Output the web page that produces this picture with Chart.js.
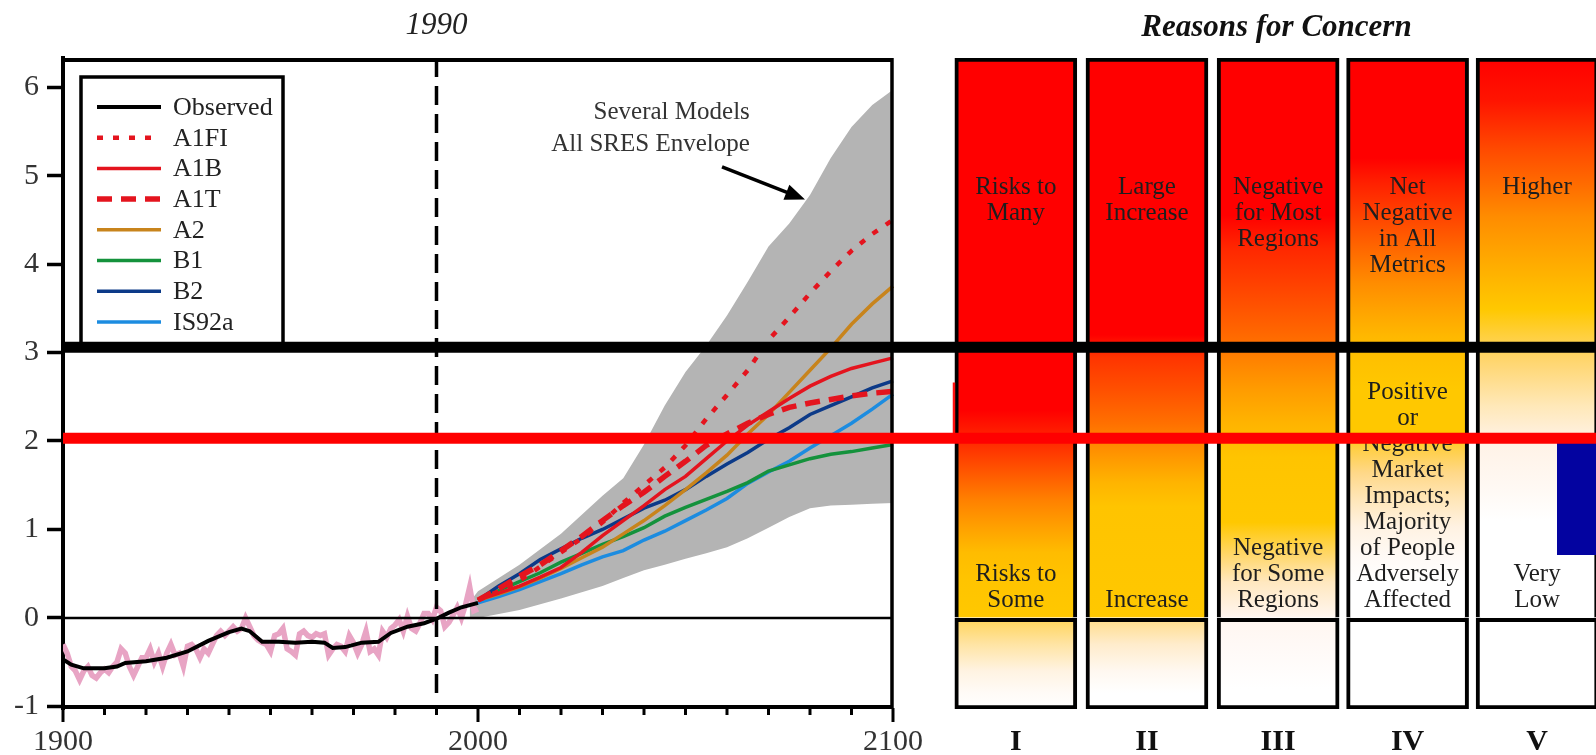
<!DOCTYPE html>
<html>
<head>
<meta charset="utf-8">
<title>Reasons for Concern</title>
<script src="https://cdn.jsdelivr.net/npm/chart.js@4.4.1/dist/chart.umd.min.js"></script>
<style>
  html, body { margin: 0; padding: 0; background: #fff; }
  canvas { display: block; }
</style>
</head>
<body>
<canvas id="concernChart" width="1596" height="755"></canvas>
<script>
// observed temperature change relative to 1990 (deg C), smoothed
const obsYears = [1900, 1902, 1905, 1910, 1913, 1915, 1920, 1925, 1930, 1935, 1940, 1943, 1945, 1948, 1952, 1956, 1960, 1963, 1965, 1968, 1972, 1976, 1979, 1983, 1987, 1990, 1993, 1996, 2000];
const obsSmooth = [-0.47, -0.53, -0.57, -0.57, -0.55, -0.51, -0.49, -0.45, -0.38, -0.26, -0.16, -0.12, -0.15, -0.27, -0.27, -0.28, -0.27, -0.28, -0.34, -0.33, -0.28, -0.27, -0.17, -0.1, -0.06, -0.01, 0.06, 0.12, 0.17];

// annual values, one per year from annualStart
const annualStart = 1900;
const obsAnnual = [
  -0.3, -0.4, -0.55, -0.6, -0.7, -0.6, -0.55, -0.65, -0.68, -0.62,
  -0.58, -0.62, -0.55, -0.5, -0.35, -0.4, -0.55, -0.65, -0.55, -0.45,
  -0.45, -0.35, -0.5, -0.4, -0.55, -0.4, -0.3, -0.42, -0.4, -0.55,
  -0.32, -0.3, -0.35, -0.45, -0.35, -0.4, -0.3, -0.2, -0.15, -0.2,
  -0.15, -0.1, -0.15, -0.12, 0.0, -0.1, -0.2, -0.25, -0.28, -0.3,
  -0.38, -0.2, -0.18, -0.12, -0.35, -0.38, -0.42, -0.18, -0.15, -0.2,
  -0.22, -0.18, -0.2, -0.18, -0.42, -0.35, -0.3, -0.32, -0.38, -0.2,
  -0.28, -0.4, -0.3, -0.15, -0.38, -0.35, -0.42, -0.15, -0.22, -0.12,
  -0.08, -0.02, -0.15, 0.02, -0.12, -0.15, -0.06, 0.05, 0.05, -0.02,
  0.12, 0.08, -0.1, -0.05, 0.03, 0.12, 0.0, 0.15, 0.35, 0.08,
  0.1
];

// SRES scenario projections
const scenYears = [2000, 2005, 2010, 2015, 2020, 2025, 2030, 2035, 2040, 2045, 2050, 2055, 2060, 2065, 2070, 2075, 2080, 2085, 2090, 2095, 2100];
const a1fi  = [0.2, 0.3, 0.42, 0.58, 0.74, 0.9, 1.08, 1.3, 1.5, 1.7, 1.95, 2.25, 2.52, 2.8, 3.14, 3.4, 3.67, 3.92, 4.15, 4.34, 4.5];
const a1b   = [0.2, 0.28, 0.36, 0.46, 0.57, 0.74, 0.93, 1.1, 1.27, 1.45, 1.6, 1.8, 2.0, 2.18, 2.33, 2.48, 2.62, 2.73, 2.82, 2.88, 2.94];
const a1t   = [0.2, 0.33, 0.47, 0.6, 0.76, 0.92, 1.1, 1.27, 1.42, 1.6, 1.77, 1.95, 2.08, 2.2, 2.3, 2.38, 2.43, 2.47, 2.51, 2.54, 2.56];
const a2    = [0.2, 0.27, 0.35, 0.45, 0.56, 0.68, 0.8, 0.95, 1.1, 1.27, 1.45, 1.64, 1.84, 2.08, 2.3, 2.55, 2.8, 3.05, 3.32, 3.55, 3.75];
const b1    = [0.2, 0.31, 0.41, 0.51, 0.63, 0.73, 0.83, 0.92, 1.02, 1.15, 1.25, 1.34, 1.43, 1.53, 1.66, 1.73, 1.8, 1.85, 1.88, 1.92, 1.96];
const b2    = [0.2, 0.36, 0.5, 0.66, 0.78, 0.9, 1.0, 1.12, 1.24, 1.33, 1.45, 1.6, 1.74, 1.87, 2.02, 2.15, 2.3, 2.4, 2.5, 2.6, 2.68];
const is92a = [0.17, 0.24, 0.32, 0.41, 0.5, 0.6, 0.69, 0.76, 0.88, 0.98, 1.1, 1.22, 1.35, 1.52, 1.65, 1.77, 1.92, 2.06, 2.2, 2.36, 2.53];

// several models, all SRES envelope
const envYears = [1998, 2000, 2010, 2020, 2030, 2035, 2040, 2045, 2050, 2055, 2060, 2065, 2070, 2075, 2080, 2085, 2090, 2095, 2100];
const envUpper = [0.18, 0.3, 0.6, 0.95, 1.38, 1.58, 1.96, 2.4, 2.78, 3.08, 3.42, 3.8, 4.2, 4.46, 4.78, 5.2, 5.55, 5.8, 5.97];
const envLower = [0.0, 0.0, 0.09, 0.22, 0.36, 0.45, 0.54, 0.6, 0.67, 0.73, 0.8, 0.9, 1.02, 1.14, 1.24, 1.27, 1.28, 1.29, 1.3];

// horizontal levels drawn across both panels
const blackLevel = 3.06;
const redLevel = 2.03;
const blueBlockX = [2260, 2280];
const blueBlockTop = 2.03;
const blueBlockBottom = 0.71;
const strayMarkX = [2114.7, 2114.7];
const strayMarkY = [2.66, 2.09];

const refYear = 1990;
const plotYears = [1900, 2100];
const yearTicks = [1900, 2000, 2100];
const yTicks = [-1, 0, 1, 2, 3, 4, 5, 6];

// reasons for concern
const concernIds = ['I', 'II', 'III', 'IV', 'V'];
const concernHigh = [['Risks to', 'Many'], ['Large', 'Increase'], ['Negative', 'for Most', 'Regions'], ['Net', 'Negative', 'in All', 'Metrics'], ['Higher']];
const concernLow = [['Risks to', 'Some'], ['Increase'], ['Negative', 'for Some', 'Regions'],
  ['Positive', 'or', 'Negative', 'Market', 'Impacts;', 'Majority', 'of People', 'Adversely', 'Affected'], ['Very', 'Low']];

// layout of the composite figure (axis units)
const yMin = -1.03, yMax = 6.33;
const xMin = 1900, xMax = 2269.4;
const concernPos = [2129.6, 2161.2, 2192.8, 2224.0, 2255.2];
const highLabelAt = 4.87, lowLabelAt = 0.2, labelGap = 26;
const noteAt = { x: 2065.5, y1: 5.71, y2: 5.35 };
const arrowFrom = { x: 2058.8, y: 5.1 }, arrowTo = { x: 2078.8, y: 4.73 };

// ember colours, [temperature, colour] from top to bottom
const emberStops = [
  [[6.33, '#ff0000'], [2.35, '#ff0000'], [1.94, '#ff3000'], [1.64, '#ff5800'], [1.34, '#ff8000'], [1.03, '#ffa000'], [0.74, '#ffbc00'], [0.43, '#ffc400'], [0, '#ffc800'],
   [0, '#ffd458'], [-0.3, '#ffe4a4'], [-0.6, '#fff3e2'], [-0.85, '#fffbf7'], [-1.03, '#ffffff']],
  [[6.33, '#ff0000'], [3.2, '#ff0000'], [2.95, '#ff3400'], [2.58, '#ff5000'], [2.2, '#ff7000'], [1.82, '#ff9800'], [1.53, '#ffb400'], [1.26, '#ffc400'], [0, '#ffc800'],
   [0, '#ffdc88'], [-0.3, '#ffeccc'], [-0.6, '#fff8f0'], [-0.85, '#ffffff'], [-1.03, '#ffffff']],
  [[6.33, '#ff0000'], [4.55, '#ff0000'], [4.17, '#ff2800'], [3.79, '#ff4000'], [3.41, '#ff5a00'], [3.15, '#ff6c00'], [2.95, '#ff8000'], [2.58, '#ff9c00'], [2.2, '#ffb400'],
   [1.82, '#ffc400'], [1.08, '#ffc800'], [0.69, '#ffd870'], [0.4, '#ffe8c0'], [0.05, '#fff4ea'], [0, '#fff6f0'], [-0.4, '#fffaf8'], [-0.8, '#ffffff'], [-1.03, '#ffffff']],
  [[6.33, '#ff0000'], [5.2, '#ff0000'], [4.92, '#ff2000'], [4.54, '#ff4400'], [4.17, '#ff6800'], [3.79, '#ff8c00'], [3.41, '#ffa800'], [3.18, '#ffb800'], [2.95, '#ffc000'],
   [2.58, '#ffc800'], [2.1, '#ffc800'], [1.9, '#ffcf48'], [1.64, '#ffd888'], [1.34, '#ffe6b8'], [1.03, '#fff2e2'], [0.69, '#fffaf6'], [0.4, '#ffffff'], [-1.03, '#ffffff']],
  [[6.33, '#ff0000'], [5.85, '#ff1400'], [5.3, '#ff4a00'], [4.92, '#ff6a00'], [4.54, '#ff8c00'], [4.17, '#ffa200'], [3.79, '#ffb800'], [3.49, '#ffc800'], [3.18, '#ffd040'],
   [2.95, '#ffd468'], [2.4, '#ffe8b8'], [2.0, '#fff2e6'], [1.45, '#fff9f4'], [1.1, '#ffffff'], [-1.03, '#ffffff']]
];

const serif = '"Liberation Serif", "DejaVu Serif", serif';
const legendLabels = ['Observed', 'A1FI', 'A1B', 'A1T', 'A2', 'B1', 'B2', 'IS92a'];

function pts(xs, ys) {
  return xs.map((x, i) => ({ x: x, y: ys[i] }));
}

const gradCache = {};
function emberGradient(chart, i) {
  const area = chart.chartArea;
  const key = i + ':' + area.top + ':' + area.bottom;
  if (gradCache[key]) return gradCache[key];
  const y = chart.scales.y;
  const top = area.top, bottom = area.bottom;
  const g = chart.ctx.createLinearGradient(0, top, 0, bottom);
  emberStops[i].forEach(s => {
    const off = (y.getPixelForValue(s[0]) - top) / (bottom - top);
    g.addColorStop(Math.min(1, Math.max(0, off)), s[1]);
  });
  gradCache[key] = g;
  return g;
}

function emberFill(c) {
  if (!c.chart.chartArea) return 'transparent';
  return emberGradient(c.chart, c.dataIndex);
}

const datasets = [
  { label: 'black level', data: pts([plotYears[0], xMax], [blackLevel, blackLevel]), borderColor: '#000', borderWidth: 11, order: 0 },
  { label: 'red level', data: pts([plotYears[0], xMax], [redLevel, redLevel]), borderColor: '#ff0000', borderWidth: 11, order: 1 },
  { label: 'block', data: pts(blueBlockX, [blueBlockTop, blueBlockTop]), borderWidth: 0, backgroundColor: '#0303a0', fill: { value: blueBlockBottom }, order: 2 },
  { label: 'stray', data: pts(strayMarkX, strayMarkY), borderColor: '#ff1010', borderWidth: 2.5, order: 3 },
  { label: 'Observed', data: pts(obsYears, obsSmooth), borderColor: '#000', borderWidth: 4, order: 4 },
  { label: 'A1FI', data: pts(scenYears, a1fi), borderColor: '#e4141e', borderWidth: 4.5, borderDash: [6, 10], order: 5 },
  { label: 'A1B', data: pts(scenYears, a1b), borderColor: '#e4141e', borderWidth: 3.5, order: 6 },
  { label: 'A1T', data: pts(scenYears, a1t), borderColor: '#e4141e', borderWidth: 5.5, borderDash: [15, 9], order: 7 },
  { label: 'A2', data: pts(scenYears, a2), borderColor: '#c8841c', borderWidth: 3.5, order: 8 },
  { label: 'B1', data: pts(scenYears, b1), borderColor: '#14923c', borderWidth: 3.5, order: 10 },
  { label: 'B2', data: pts(scenYears, b2), borderColor: '#0c3a88', borderWidth: 3.5, order: 9 },
  { label: 'IS92a', data: pts(scenYears, is92a), borderColor: '#1c8ce0', borderWidth: 3.5, order: 11 },
  { label: 'zero', data: pts(plotYears, [0, 0]), borderColor: '#000', borderWidth: 2.5, order: 12 },
  { label: '1990', data: pts([refYear, refYear], [yMax, -0.9]), borderColor: '#000', borderWidth: 3.5, borderDash: [19, 9], order: 13 },
  { label: 'annual', data: obsAnnual.map((v, i) => ({ x: annualStart + i, y: v })), borderColor: '#e8a4c4', borderWidth: 5.5, order: 14 },
  { label: 'envelope', data: pts(envYears, envUpper), borderWidth: 0, backgroundColor: '#b4b4b4', fill: '+1', order: 15 },
  { label: 'envelope low', data: pts(envYears, envLower), borderWidth: 0, fill: false, order: 16 },
  { type: 'bar', label: 'concern high', data: concernPos.map(x => ({ x: x, y: [0, yMax] })), stack: 'ember',
    backgroundColor: emberFill, borderColor: '#000', borderWidth: 4, borderSkipped: 'bottom', barThickness: 122, order: 20 },
  { type: 'bar', label: 'concern low', data: concernPos.map(x => ({ x: x, y: [yMin, 0] })), stack: 'ember',
    backgroundColor: emberFill, borderColor: '#000', borderWidth: 4, borderSkipped: false, barThickness: 122, order: 21 }
];

const idx = label => datasets.findIndex(d => d.label === label);

function drawLegend(chart) {
  const ctx = chart.ctx, area = chart.chartArea;
  const x0 = area.left + 18, y0 = area.top + 19;
  ctx.save();
  ctx.lineWidth = 3.5;
  ctx.strokeStyle = '#000';
  ctx.strokeRect(x0, y0, 202, 270);
  ctx.font = '26px ' + serif;
  ctx.textAlign = 'left';
  ctx.textBaseline = 'middle';
  legendLabels.forEach((label, i) => {
    const ds = datasets[idx(label)];
    const y = y0 + 30 + i * 30.7;
    ctx.beginPath();
    ctx.setLineDash(ds.borderDash || []);
    ctx.lineWidth = ds.borderWidth;
    ctx.strokeStyle = ds.borderColor;
    ctx.moveTo(x0 + 16, y);
    ctx.lineTo(x0 + 80, y);
    ctx.stroke();
    ctx.setLineDash([]);
    ctx.fillStyle = '#222';
    ctx.fillText(label, x0 + 92, y + 1);
  });
  ctx.restore();
}

function drawConcernText(chart) {
  const ctx = chart.ctx, y = chart.scales.y;
  const meta = chart.getDatasetMeta(idx('concern high'));
  ctx.save();
  ctx.font = '25px ' + serif;
  ctx.fillStyle = '#1e1e1e';
  ctx.textAlign = 'center';
  ctx.textBaseline = 'middle';
  meta.data.forEach((bar, i) => {
    const top = y.getPixelForValue(highLabelAt);
    concernHigh[i].forEach((t, k) => ctx.fillText(t, bar.x, top + k * labelGap));
    const low = y.getPixelForValue(lowLabelAt);
    const lines = concernLow[i];
    lines.forEach((t, k) => ctx.fillText(t, bar.x, low - (lines.length - 1 - k) * labelGap));
  });
  ctx.restore();
}

function drawFrame(chart) {
  const ctx = chart.ctx, area = chart.chartArea, x = chart.scales.x;
  const left = x.getPixelForValue(plotYears[0]), right = x.getPixelForValue(plotYears[1]);
  ctx.save();
  ctx.strokeStyle = '#000';
  ctx.lineWidth = 4;
  ctx.beginPath();
  ctx.moveTo(left, area.top + 2);
  ctx.lineTo(right, area.top + 2);
  ctx.moveTo(left, area.bottom - 2);
  ctx.lineTo(right, area.bottom - 2);
  ctx.stroke();
  ctx.lineWidth = 3.5;
  ctx.beginPath();
  ctx.moveTo(right - 1, area.top);
  ctx.lineTo(right - 1, area.bottom);
  ctx.stroke();
  // decade tick marks
  ctx.lineWidth = 3;
  for (let yr = plotYears[0]; yr <= plotYears[1]; yr += 10) {
    const px = x.getPixelForValue(yr);
    const len = yearTicks.includes(yr) ? 13 : 6;
    ctx.beginPath();
    ctx.moveTo(px, area.bottom - 1);
    ctx.lineTo(px, area.bottom + len);
    ctx.stroke();
  }
  ctx.restore();
}

function drawNotes(chart) {
  const ctx = chart.ctx, x = chart.scales.x, y = chart.scales.y;
  ctx.save();
  ctx.font = '25px ' + serif;
  ctx.fillStyle = '#333';
  ctx.textAlign = 'right';
  ctx.textBaseline = 'middle';
  ctx.fillText('Several Models', x.getPixelForValue(noteAt.x), y.getPixelForValue(noteAt.y1));
  ctx.fillText('All SRES Envelope', x.getPixelForValue(noteAt.x), y.getPixelForValue(noteAt.y2));
  const x1 = x.getPixelForValue(arrowFrom.x), y1 = y.getPixelForValue(arrowFrom.y);
  const x2 = x.getPixelForValue(arrowTo.x), y2 = y.getPixelForValue(arrowTo.y);
  const ang = Math.atan2(y2 - y1, x2 - x1);
  ctx.strokeStyle = '#000';
  ctx.fillStyle = '#000';
  ctx.lineWidth = 3.5;
  ctx.beginPath();
  ctx.moveTo(x1, y1);
  ctx.lineTo(x2 - 16 * Math.cos(ang), y2 - 16 * Math.sin(ang));
  ctx.stroke();
  ctx.beginPath();
  ctx.moveTo(x2, y2);
  ctx.lineTo(x2 - 20 * Math.cos(ang) + 8 * Math.sin(ang), y2 - 20 * Math.sin(ang) - 8 * Math.cos(ang));
  ctx.lineTo(x2 - 20 * Math.cos(ang) - 8 * Math.sin(ang), y2 - 20 * Math.sin(ang) + 8 * Math.cos(ang));
  ctx.closePath();
  ctx.fill();

  // headings
  ctx.fillStyle = '#222';
  ctx.textAlign = 'center';
  ctx.font = 'italic 31px ' + serif;
  ctx.fillText(String(refYear), x.getPixelForValue(refYear), 26);
  const meta = chart.getDatasetMeta(idx('concern high'));
  const first = meta.data[0], last = meta.data[meta.data.length - 1];
  ctx.font = 'bold italic 31px ' + serif;
  ctx.fillStyle = '#111';
  ctx.fillText('Reasons for Concern', ((first.x - first.width / 2) + (last.x + last.width / 2)) / 2, 28);
  ctx.restore();
}

const figurePlugin = {
  id: 'figure',
  beforeDatasetsDraw(chart) { drawLegend(chart); },
  afterDatasetDraw(chart, args) {
    if (args.index === idx('concern high')) drawConcernText(chart);
    if (args.index === idx('Observed')) drawFrame(chart);
  },
  afterDraw(chart) { drawNotes(chart); }
};

const isConcern = v => concernPos.includes(v);

new Chart(document.getElementById('concernChart').getContext('2d'), {
  type: 'line',
  data: { datasets: datasets },
  options: {
    responsive: false,
    animation: false,
    events: [],
    layout: { padding: { top: 58, right: 0, bottom: 0, left: 0 } },
    elements: { point: { radius: 0 }, line: { tension: 0 } },
    plugins: { legend: { display: false }, tooltip: { enabled: false } },
    scales: {
      x: {
        type: 'linear', min: xMin, max: xMax, offset: false,
        grid: { display: false, drawTicks: false },
        border: { display: false },
        afterFit: s => { s.height = 46; },
        afterBuildTicks: s => { s.ticks = yearTicks.concat(concernPos).map(v => ({ value: v })); },
        ticks: {
          autoSkip: false, maxRotation: 0, padding: 15,
          color: c => (c.tick && isConcern(c.tick.value)) ? '#111' : '#333',
          font: c => (c.tick && isConcern(c.tick.value))
            ? { family: serif, size: 30, weight: 'bold' }
            : { family: serif, size: 30 },
          callback: v => isConcern(v) ? concernIds[concernPos.indexOf(v)] : String(v)
        }
      },
      y: {
        min: yMin, max: yMax,
        grid: { display: true, drawOnChartArea: false, drawTicks: true, tickLength: 16, tickWidth: 3.5, color: '#000' },
        border: { display: true, color: '#000', width: 4 },
        afterFit: s => { s.width = 63; },
        afterBuildTicks: s => { s.ticks = yTicks.map(v => ({ value: v })); },
        ticks: { padding: 8, color: '#333', font: { family: serif, size: 30 }, callback: v => String(v) }
      }
    }
  },
  plugins: [figurePlugin]
});
</script>
</body>
</html>
